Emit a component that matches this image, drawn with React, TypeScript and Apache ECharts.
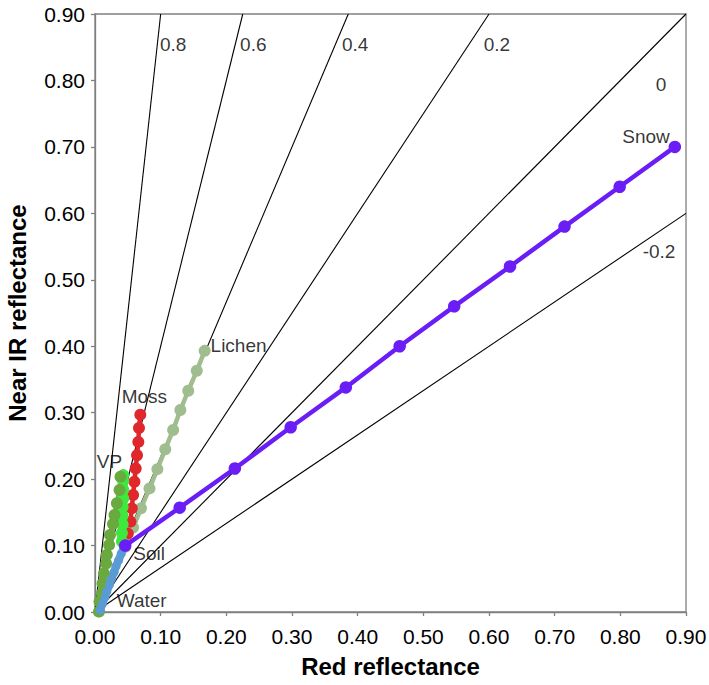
import React, { useEffect, useRef } from "react";
import * as echarts from "echarts";

// NDVI isoline values
const ndviValues = [0.8, 0.6, 0.4, 0.2, 0, -0.2];
const ndviLabels = ["0.8", "0.6", "0.4", "0.2", "0", "-0.2"];
// label anchor positions (red, nir) for isoline labels
const ndviLabelPos: [number, number][] = [
  [0.099, 0.854],
  [0.221, 0.854],
  [0.376, 0.854],
  [0.592, 0.854],
  [0.854, 0.794],
  [0.834, 0.542],
];

const snow: [number, number][] = [
  [0.046, 0.1], [0.129, 0.157], [0.213, 0.216], [0.298, 0.278], [0.382, 0.338],
  [0.464, 0.4], [0.547, 0.46], [0.632, 0.52], [0.715, 0.58], [0.799, 0.64], [0.883, 0.7],
];
const lichen: [number, number][] = [
  [0.046, 0.098], [0.058, 0.127], [0.07, 0.156], [0.083, 0.186], [0.095, 0.215],
  [0.107, 0.245], [0.119, 0.274], [0.13, 0.304], [0.142, 0.333], [0.155, 0.363], [0.167, 0.393],
];
const moss: [number, number][] = [
  [0.05, 0.118], [0.054, 0.136], [0.056, 0.156], [0.058, 0.176], [0.06, 0.196],
  [0.062, 0.216], [0.064, 0.236], [0.066, 0.256], [0.067, 0.277], [0.069, 0.297],
];
const brightGreen: [number, number][] = [
  [0.041, 0.106], [0.041, 0.119], [0.042, 0.132], [0.042, 0.145], [0.042, 0.158],
  [0.043, 0.171], [0.043, 0.184], [0.043, 0.197], [0.043, 0.206],
];
const vp: [number, number][] = [
  [0.006, 0.0005], [0.0068, 0.0155], [0.0105, 0.028], [0.0114, 0.043], [0.0137, 0.058],
  [0.0169, 0.073], [0.018, 0.086], [0.0215, 0.101], [0.0228, 0.116], [0.0274, 0.1325],
  [0.0297, 0.146], [0.0333, 0.1637], [0.0374, 0.1837], [0.0388, 0.2037],
];
const water: [number, number][] = [
  [0.008, 0.003], [0.011, 0.012], [0.015, 0.022], [0.018, 0.031], [0.022, 0.041],
  [0.025, 0.05], [0.029, 0.06], [0.032, 0.069], [0.036, 0.078], [0.04, 0.088], [0.044, 0.097],
];

const classLabels = ["Snow", "Lichen", "Moss", "VP", "Soil", "Water"];
const classLabelPos: [number, number][] = [
  [0.803, 0.716],
  [0.176, 0.4006],
  [0.0406, 0.324],
  [0.0026, 0.226],
  [0.0583, 0.0873],
  [0.033, 0.0166],
];

const FONT = "Liberation Sans, Arial, sans-serif";

function isoline(v: number): [number, number][] {
  const s = (1 + v) / (1 - v);
  const end: [number, number] = s >= 1 ? [0.9 / s, 0.9] : [0.9, 0.9 * s];
  return [[0, 0], end];
}

export default function App() {
  const ref = useRef<HTMLDivElement>(null);
  useEffect(() => {
    if (!ref.current) return;
    const chart = echarts.init(ref.current, undefined, { renderer: "svg" });
    const dotSeries = (name: string, data: [number, number][], color: string, size = 12, width = 4.5) => ({
      name,
      type: "line",
      data,
      symbol: "circle",
      symbolSize: size,
      showSymbol: true,
      itemStyle: { color },
      lineStyle: { color, width },
      z: 5,
    });
    const axisCommon = {
      type: "value",
      min: 0,
      max: 0.9,
      interval: 0.1,
      nameLocation: "middle",
      nameTextStyle: { fontFamily: FONT, fontWeight: "bold", fontSize: 24, color: "#000" },
      axisLine: { show: true, lineStyle: { color: "#808080", width: 1.3 } },
      axisTick: { show: true, inside: false, length: 4, lineStyle: { color: "#808080", width: 1.3 } },
      splitLine: { show: false },
    };
    const option: any = {
      animation: false,
      grid: {
        left: 95,
        right: 23,
        top: 14,
        bottom: 73,
        show: true,
        borderColor: "#808080",
        borderWidth: 1.3,
        containLabel: false,
        outerBoundsMode: "none",
      },
      xAxis: {
        ...axisCommon,
        name: "Red reflectance",
        nameGap: 42,
        axisLabel: {
          fontFamily: FONT,
          fontSize: 21,
          color: "#000",
          margin: 14,
          formatter: (v: number) => v.toFixed(2),
        },
      },
      yAxis: {
        ...axisCommon,
        name: "Near IR reflectance",
        nameGap: 66,
        axisLabel: {
          fontFamily: FONT,
          fontSize: 21,
          color: "#000",
          margin: 10,
          formatter: (v: number) => v.toFixed(2),
        },
      },
      series: [
        ...ndviValues.map((v, i) => ({
          name: "NDVI " + ndviLabels[i],
          type: "line",
          data: isoline(v),
          symbol: "none",
          lineStyle: { color: "#000", width: 1.1 },
          z: 2,
          silent: true,
        })),
        dotSeries("Lichen", lichen, "#9fbd8e"),
        dotSeries("Moss", moss, "#e0282c"),
        dotSeries("GreenVeg", brightGreen, "#3ee83e", 12, 9),
        dotSeries("VP", vp, "#69a93e"),
        dotSeries("Water", water, "#5b9bd5", 9, 8),
        dotSeries("Snow", snow, "#6a1ef5", 12.5, 4.5),
        {
          name: "isolabels",
          type: "scatter",
          symbolSize: 0,
          data: ndviLabelPos.map((p, i) => ({ value: p, name: ndviLabels[i] })),
          label: {
            show: true,
            position: "right",
            distance: 0,
            formatter: (p: any) => p.name,
            fontFamily: FONT,
            fontSize: 19,
            color: "#000",
          },
          z: 10,
          silent: true,
        },
        {
          name: "classlabels",
          type: "scatter",
          symbolSize: 0,
          data: classLabelPos.map((p, i) => ({ value: p, name: classLabels[i] })),
          label: {
            show: true,
            position: "right",
            distance: 0,
            formatter: (p: any) => p.name,
            fontFamily: FONT,
            fontSize: 19,
            color: "#000",
          },
          z: 10,
          silent: true,
        },
      ],
    };
    chart.setOption(option);
    return () => chart.dispose();
  }, []);
  return (
    <div
      ref={ref}
      style={{ position: "absolute", left: 0, top: 0, width: 709, height: 685 }}
    />
  );
}
